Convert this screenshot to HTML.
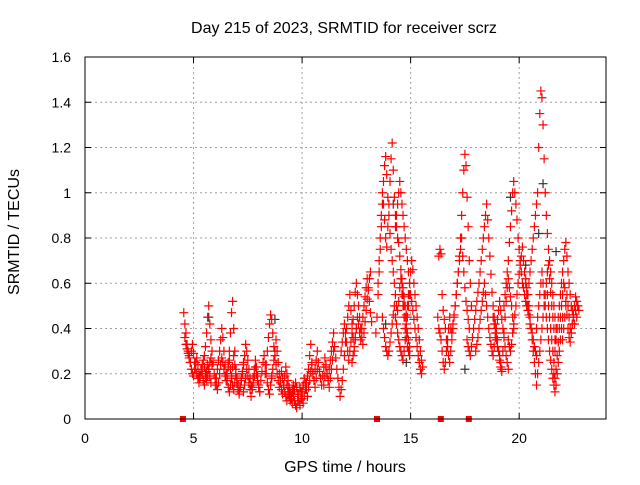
<!DOCTYPE html>
<html><head><meta charset="utf-8"><style>
body{margin:0;background:#fff}
svg text{font-family:"Liberation Sans",sans-serif;font-size:14px;fill:#000}
svg text.big{font-size:16px}
</style></head><body>
<svg id="chart" width="640" height="480" xmlns="http://www.w3.org/2000/svg">
<rect width="640" height="480" fill="#fff"/>
<text class="big" x="344" y="33" text-anchor="middle">Day 215 of 2023, SRMTID for receiver scrz</text>
<text class="big" x="345" y="472" text-anchor="middle">GPS time / hours</text>
<text class="big" transform="translate(19,232) rotate(-90)" text-anchor="middle">SRMTID / TECUs</text>
<g id="grid"></g>
<g id="ticks"></g>
<g id="marks"></g>
<rect x="85" y="57" width="521" height="362" fill="none" stroke="#000" stroke-width="1"/>
</svg>
<script>
const xTicks=[0,5,10,15,20];
const xTickLabels=["0","5","10","15","20"];
const yTicks=[0,0.2,0.4,0.6,0.8,1,1.2,1.4,1.6];
const yTickLabels=["0","0.2","0.4","0.6","0.8","1","1.2","1.4","1.6"];
const sampleStep=0.05;
const trackStarts=[4.55,4.6,5.5,6.0,6.6,7.3,8.3,8.6,9.3,10.0,11.0,11.8,12.3,13.4,13.5,13.7,14.3,14.6,16.3,16.25,17.6,18.0,18.8,19.3,19.5,20.35,20.3,20.8,21.3,21.6,22.0];
const trackValues=[
[.47,.42,.38,.33,.30,.28,.25,.22,.20,.19,.22,.25,.27,.24,.20,.18,.21,.24,.26,.23,.20,.17,.19,.22,.25,.27,.24],
[.36,.33,.31,.29,.27,.25,.3,.33,.29,.25,.22,.2,.18,.16,.19,.22,.2,.17,.15,.18,.21,.24,.22,.19,.16],
[.28,.32,.38,.45,.5,.42,.35,.3,.25,.2,.18,.15,.13,.16,.2,.24,.27,.25,.22,.19,.17,.2,.23,.26,.22,.18,.15,.13,.16,.19],
[.15,.18,.22,.26,.3,.35,.4,.36,.3,.24,.2,.17,.14,.12,.15,.19,.23,.28,.24,.2,.16,.13,.11,.14,.18,.21,.25],
[.25,.3,.38,.47,.52,.4,.3,.22,.18,.15,.12,.14,.17,.2,.24,.28,.33,.3,.26,.22,.18,.15,.13,.16,.19,.23,.2,.17,.14,.12],
[.12,.15,.18,.22,.19,.16,.13,.1,.14,.18,.22,.26,.23,.19,.15,.12,.17,.21,.25,.28,.24,.2,.16,.13,.11,.15,.19],
[.2,.24,.3,.36,.42,.46,.44,.38,.32,.28,.35,.3,.25,.2,.16,.13,.11,.15,.19,.23,.2,.17,.14,.11,.09,.12,.15],
[.18,.22,.26,.3,.24,.2,.17,.14,.17,.21,.18,.15,.12,.1,.08,.11,.14,.12,.09,.07,.1,.13,.16,.14,.11,.08,.06,.09,.12,.15],
[.15,.12,.1,.08,.1,.13,.11,.08,.06,.05,.08,.11,.14,.12,.09,.07,.1,.13,.16,.19,.22,.28,.33,.25,.2,.17,.14,.18,.22],
[.12,.15,.18,.16,.13,.1,.14,.17,.21,.24,.2,.17,.22,.26,.3,.25,.21,.18,.15,.19,.23,.27,.24,.2,.17,.14,.18,.22,.26,.3],
[.15,.19,.23,.2,.17,.22,.26,.3,.34,.38,.32,.27,.22,.18,.14,.1,.13,.17,.22,.28,.34,.4,.45,.5,.55,.48,.42,.36,.3,.35,.4],
[.3,.34,.38,.42,.38,.34,.3,.26,.3,.34,.38,.44,.5,.56,.6,.55,.5,.45,.4,.36,.33,.38,.43,.48,.53,.58,.62,.65],
[.25,.28,.32,.36,.4,.45,.42,.38,.35,.4,.45,.5,.54,.58,.62,.57,.52,.47,.43],
[.38,.45,.55,.65,.75,.85,.95,1.05,1.12,1.16,1.08,.98,.9,.82,.75,.7,.65,.6,.55,.5,.48,.52,.58,.62,.55,.5,.45,.4,.36,.32,.3,.28],
[.6,.7,.8,.9,1.0,.95,.88,.8,.76,.85,.95,1.05,1.15,1.22,1.1,.98,.9,.85,.8,.78,.72,.66,.6,.55,.5,.45,.42,.38,.35,.32],
[.45,.4,.36,.32,.3,.28,.3,.34,.38,.42,.46,.5,.45,.42,.38,.35,.32,.3,.28,.26,.3,.35,.4,.45,.5,.55],
[.85,.9,.95,1.0,1.05,1.0,.95,.9,.85,.8,.75,.7,.65,.6,.55,.52,.48,.44,.4,.36,.32,.28,.25,.22,.2],
[.62,.58,.54,.5,.46,.5,.55,.6,.65,.7,.66,.6,.55,.5,.45,.4,.35,.3,.26,.23],
[.72,.75,.73,.55,.48,.44,.4,.35,.32,.28,.25,.3,.35,.4,.45,.5,.55,.6,.65,.7,.75,.8,.72,.65,.58,.52,.48,.44,.4],
[.45,.4,.38,.35,.3,.25,.22,.25,.3,.35,.4,.45,.4,.38,.42,.46,.5,.55,.6,.65,.72,.8,.9,1.0,1.1,1.17,1.12,.98,.85,.7,.6,.5],
[.35,.32,.3,.28,.32,.36,.4,.44,.48,.52,.56,.6,.65,.7,.75,.8,.85,.9,.95,.88,.8,.72,.64,.56,.5,.45,.42,.38,.35,.3,.26,.23,.21],
[.3,.33,.36,.4,.44,.48,.52,.56,.6,.55,.5,.45,.4,.36,.33,.3,.28,.32,.36,.4,.44,.48,.52,.48,.44,.4,.36,.32,.28,.25,.22],
[.45,.42,.38,.35,.32,.3,.28,.25,.22,.3,.38,.45,.52,.58,.62,.58,.54,.5,.45,.4],
[.5,.55,.6,.65,.7,.78,.85,.92,1.0,1.05,1.0,.95,.88,.8,.75,.7,.65,.6,.58,.55,.52,.5,.48],
[.35,.32,.3,.33,.38,.42,.46,.5,.55,.6,.64,.68,.72,.76,.7,.65,.6,.55,.5,.46,.42,.4,.38,.35,.32,.3,.28],
[.5,.55,.6,.65,.7,.75,.8,.85,.9,.95,1.0,1.2,1.35,1.45,1.42,1.3,1.15,1.0,.9,.82,.75,.7,.65,.6,.55,.5,.45,.4],
[.62,.58,.55,.5,.45,.4,.35,.3,.25,.2,.15,.2,.25,.3,.35,.4,.45,.5,.55,.6,.65,.68,.62,.56,.5,.45,.4,.35],
[.4,.45,.5,.55,.6,.65,.6,.55,.5,.45,.4,.35,.3,.26,.22,.18,.15,.12,.15,.2,.25,.3,.35,.4,.45],
[.55,.5,.45,.4,.35,.3,.25,.3,.35,.4,.45,.5,.55,.6,.65,.7,.75,.78,.72,.65,.6,.55,.5,.48,.45,.42],
[.2,.18,.22,.28,.34,.4,.45,.5,.55,.6,.58,.52,.46,.4,.36,.34,.38,.42,.46,.5,.54,.52,.5,.48],
[.35,.4,.45,.5,.55,.5,.45,.4,.38,.42,.46,.5,.48,.45,.5]
];
const grayTimes=[5.7,8.75,13.85,14.2,14.8,17.5,19.6,20.3,20.9,21.1,21.7];
const grayValues=[.45,.44,.42,.95,.25,.22,.98,.68,.82,1.04,.74];
const gapTimes=[4.51,13.45,16.39,17.68];

const X0=85,X1=606,Y0=419,Y1=57,XMAX=24,YMAX=1.6;
const xs=v=>X0+(X1-X0)*v/XMAX;
const ys=v=>Y0-(Y0-Y1)*v/YMAX;
const NS="http://www.w3.org/2000/svg";
const grid=document.getElementById('grid'),ticks=document.getElementById('ticks'),marks=document.getElementById('marks');
function mk(tag,attrs,parent){const e=document.createElementNS(NS,tag);for(const k in attrs)e.setAttribute(k,attrs[k]);parent.appendChild(e);return e;}
xTicks.forEach((t,i)=>{
  const x=xs(t);
  if(t>0){const g=mk('line',{x1:x,x2:x,y1:Y1,y2:Y0,stroke:'#a0a0a0','stroke-dasharray':'2,3'},grid);
  
  }
  const tk=mk('path',{d:`M${x},${Y0}v-6M${x},${Y1}v6`,stroke:'#000'},ticks);
  
  
  const l=mk('text',{x:x,y:443,'text-anchor':'middle'},ticks);l.textContent=xTickLabels[i];
  
  
});
yTicks.forEach((t,i)=>{
  const y=ys(t);
  if(t>0&&t<YMAX){const g=mk('line',{x1:X0,x2:X1,y1:y,y2:y,stroke:'#a0a0a0','stroke-dasharray':'2,3'},grid);
  
  }
  const tk=mk('path',{d:`M${X0},${y}h6M${X1},${y}h-6`,stroke:'#000'},ticks);
  
  
  const l=mk('text',{x:71,y:y+5,'text-anchor':'end'},ticks);l.textContent=yTickLabels[i];
  
  
});
function plus(t,v,col){
  const x=xs(t),y=ys(v);
  const p=mk('path',{d:`M${x-4.5},${y}h9M${x},${y-4.5}v9`,stroke:col,'stroke-width':1.2},marks);
  
  
}
grayTimes.forEach((t,i)=>plus(t,grayValues[i],'#333'));
trackValues.forEach((vals,k)=>vals.forEach((v,i)=>plus(trackStarts[k]+i*sampleStep,v,'#ff0000')));
gapTimes.forEach(t=>{
  const r=mk('rect',{x:xs(t)-3,y:Y0-3,width:6,height:6,fill:'#ff0000'},marks);
  
  
});
</script>
</body></html>
